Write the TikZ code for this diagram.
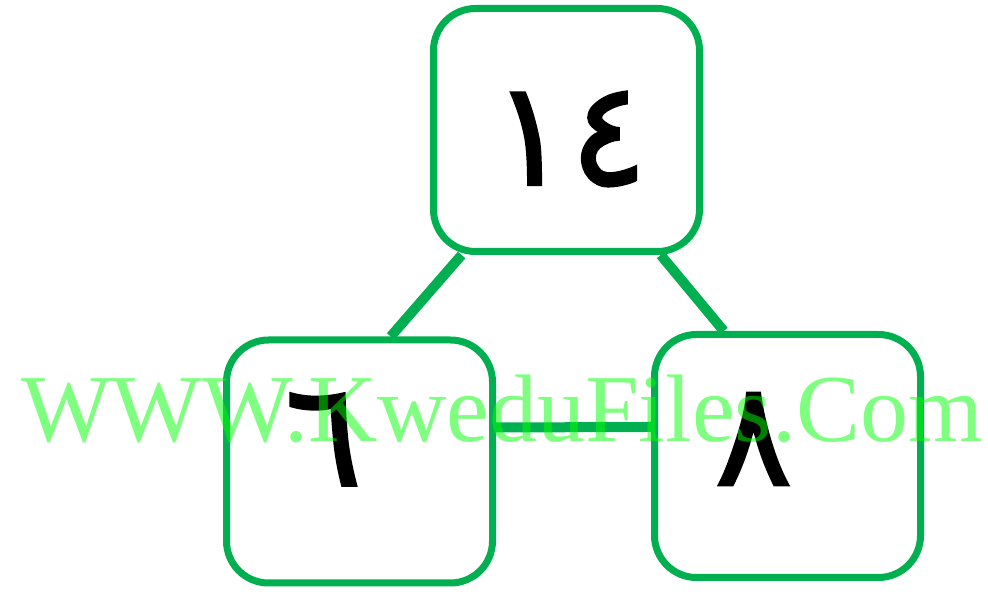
\documentclass[tikz,border=0pt]{standalone}
\usepackage{fontspec}
\setmainfont{Liberation Serif}
\newfontfamily\arabicfont[Script=Arabic, FakeBold=1.5]{DejaVu Sans}
\usepackage{tikz}
\definecolor{BoxGreen}{RGB}{0, 176, 80}
\definecolor{MarkGreen}{RGB}{0, 255, 0}
% shift a number inside its box: #1 right, #2 up
\newcommand{\placenum}[3]{\makebox[0pt]{\hspace*{#1}\hspace*{#1}\raisebox{#2}[\height][\depth]{#3}}}

\begin{document}
\begin{tikzpicture}[x=1pt, y=1pt,
    numbox/.style={draw=BoxGreen, line width=7pt, rounded corners=42pt, fill=white,
      minimum width=266pt, minimum height=243pt, inner sep=0pt,
      font=\arabicfont\fontsize{146}{146}\selectfont},
    link/.style={draw=BoxGreen, line width=10pt},
    watermark/.style={text=MarkGreen, text opacity=0.5, inner sep=0pt,
      font=\fontsize{96}{96}\selectfont}]
  \useasboundingbox (0,0) rectangle (988,594);
  % number boxes
  \node[numbox] (top) at (566.5,464) {\placenum{3pt}{-9pt}{١٤}};
  \node[numbox] (left) at (359.5,132.5) {\placenum{-36pt}{22pt}{٦}};
  \node[numbox] (right) at (787.5,138) {\placenum{-34pt}{17pt}{٨}};
  % connectors
  \draw[link] (top.230) -- (left.76);
  \draw[link] (top.-53) -- (right.117);
  \draw[link] (left.14) -- (right.168);
  % site mark
  \node[watermark, anchor=base] (mark) at (502,152) {WWW.KweduFiles.Com};
\end{tikzpicture}
\end{document}
